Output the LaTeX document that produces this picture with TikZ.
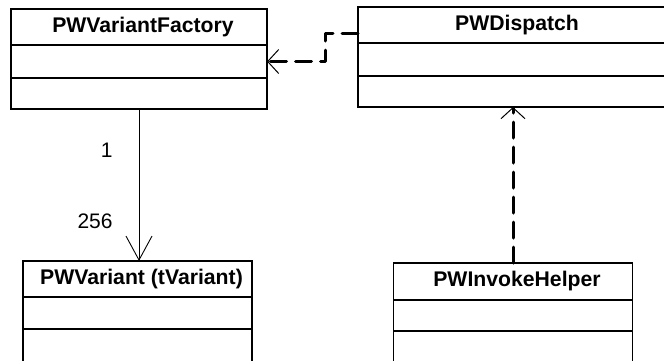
\documentclass[tikz,border=0pt]{standalone}
\usepackage{fontspec}
\setmainfont{Liberation Sans}
\usetikzlibrary{arrows.meta, calc, positioning}
\definecolor{InkBlack}{gray}{0}
\tikzset{%
  classhead/.style={%
    rectangle,
    draw=InkBlack,
    line width=1.4pt,
    minimum height=36pt,
    inner sep=0pt,
    outer sep=0pt,
    font={\fontsize{21.2}{24}\selectfont\bfseries},
    execute at begin node={\hspace*{8pt}},
    align=center%
  },
  classpart/.style={%
    rectangle,
    draw=InkBlack,
    line width=1.4pt,
    minimum height=33pt,
    inner sep=0pt,
    outer sep=0pt%
  },
  annotate/.style={%
    font={\fontsize{21}{24}\selectfont},
    inner sep=0pt%
  },
  assoc/.style={%
    color=InkBlack,
    line width=0.9pt%
  },
  depend/.style={%
    color=InkBlack,
    line width=3pt,
    line cap=round,
    line join=round,
    dash pattern=on 16pt off 9pt%
  },
  bigvee/.style={-{Straight Barb[length=24pt, width=26pt]}},
  smallvee/.style={-{Straight Barb[length=11pt, width=24pt, line width=1pt]}}
}

\begin{document}
\begin{tikzpicture}[x=1pt, y=-1pt]
    \useasboundingbox (0,0) rectangle (664,360);

    % classes
    \node [classhead, minimum width=256pt] (Factory) at (139,27) {PWVariantFactory};
    \node [classpart, minimum width=256pt, below=0pt of Factory] (FactoryAttr) {};
    \node [classpart, minimum width=256pt, minimum height=31pt, below=0pt of FactoryAttr] (FactoryOps) {};

    \node [classhead, minimum width=310pt] (Dispatch) at (513,25) {PWDispatch};
    \node [classpart, minimum width=310pt, below=0pt of Dispatch] (DispatchAttr) {};
    \node [classpart, minimum width=310pt, minimum height=31pt, below=0pt of DispatchAttr] (DispatchOps) {};

    \node [classhead, minimum width=229pt] (Variant) at (137.5,279) {PWVariant (tVariant)};
    \node [classpart, minimum width=229pt, minimum height=32pt, below=0pt of Variant] (VariantAttr) {};
    \node [classpart, minimum width=229pt, below=0pt of VariantAttr] (VariantOps) {};

    \node [classhead, minimum width=239pt, minimum height=37pt] (Invoke) at (513,281.5) {PWInvokeHelper};
    \node [classpart, minimum width=239pt, minimum height=31pt, below=0pt of Invoke] (InvokeAttr) {};
    \node [classpart, minimum width=239pt, below=0pt of InvokeAttr] (InvokeOps) {};

    % connectors
    \coordinate (DispatchPort) at ($(Dispatch.west)+(0,8)$);
    \coordinate (Bend) at ($(DispatchPort)+(-33,0)$);

    \draw [assoc, bigvee]
      (FactoryOps.south) -- (FactoryOps.south |- Variant.north)
      node [annotate, pos=0.27, left=26pt] {1}
      node [annotate, pos=0.74, left=26pt] {256};
    \draw [depend, smallvee]
      (DispatchPort) -- (Bend) |- (FactoryAttr.east);
    \draw [depend, smallvee]
      (Invoke.north) -- (DispatchOps.south);
\end{tikzpicture}
\end{document}
